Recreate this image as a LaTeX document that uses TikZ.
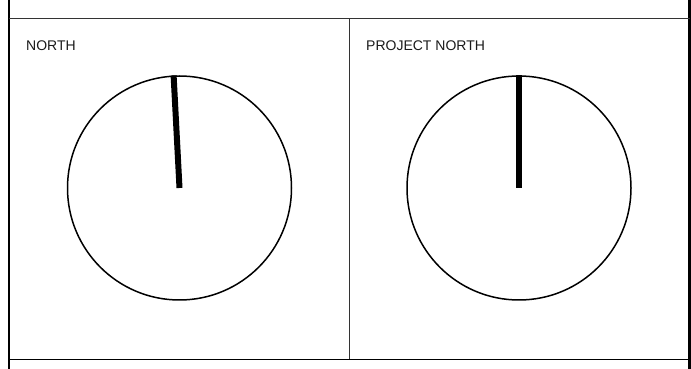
\documentclass[tikz,border=0pt]{standalone}
\usepackage{fontspec}
\setmainfont{Liberation Sans}
\usetikzlibrary{positioning}
\definecolor{InkA}{HTML}{1A1A1A}
\definecolor{GrayA}{HTML}{333333}
\tikzset{
  frame/.style={draw=black, line width=2.4pt},
  rule/.style={draw=GrayA, line width=1.3pt},
  dial/.style={circle, draw=black, line width=1.5pt, minimum size=224pt,
               inner sep=0pt},
  needle/.style={draw=black, line width=6pt},
  lbl/.style={font=\fontsize{14}{16}\selectfont, text=InkA, anchor=base west,
              inner sep=0pt},
}

\begin{document}
\begin{tikzpicture}[x=1pt,y=1pt]
  \useasboundingbox (0,0) rectangle (691,369);

  % sheet frame
  \coordinate (lt) at (9,369);     \coordinate (lb) at (9,0);
  \coordinate (rt) at (689.5,369); \coordinate (rb) at (689.5,0);
  \coordinate (tl) at (9,350.5);   \coordinate (tr) at (689.5,350.5);
  \coordinate (bl) at (9,9.5);     \coordinate (br) at (689.5,9.5);
  \coordinate (mt) at (349,350.5); \coordinate (mb) at (349,9.5);

  \draw[frame] (lt) -- (lb);
  \draw[frame] (rt) -- (rb);
  \draw[rule] (tl) -- (tr);
  \draw[draw=black, line width=1.2pt] (bl) -- (br);
  \draw[rule, line width=1pt] (mt) -- (mb);

  % dials
  \node[lbl] (northlbl)   at (26,318)  {NORTH};
  \node[lbl] (projectlbl) at (366,318) {PROJECT NORTH};

  \node[dial] (north)   at (179.5,181) {};
  \node[dial] (project) at (519,181)   {};

  \draw[needle] (north.center) -- (north.93.3);
  \draw[needle] (project.center) -- (project.90);
\end{tikzpicture}
\end{document}
